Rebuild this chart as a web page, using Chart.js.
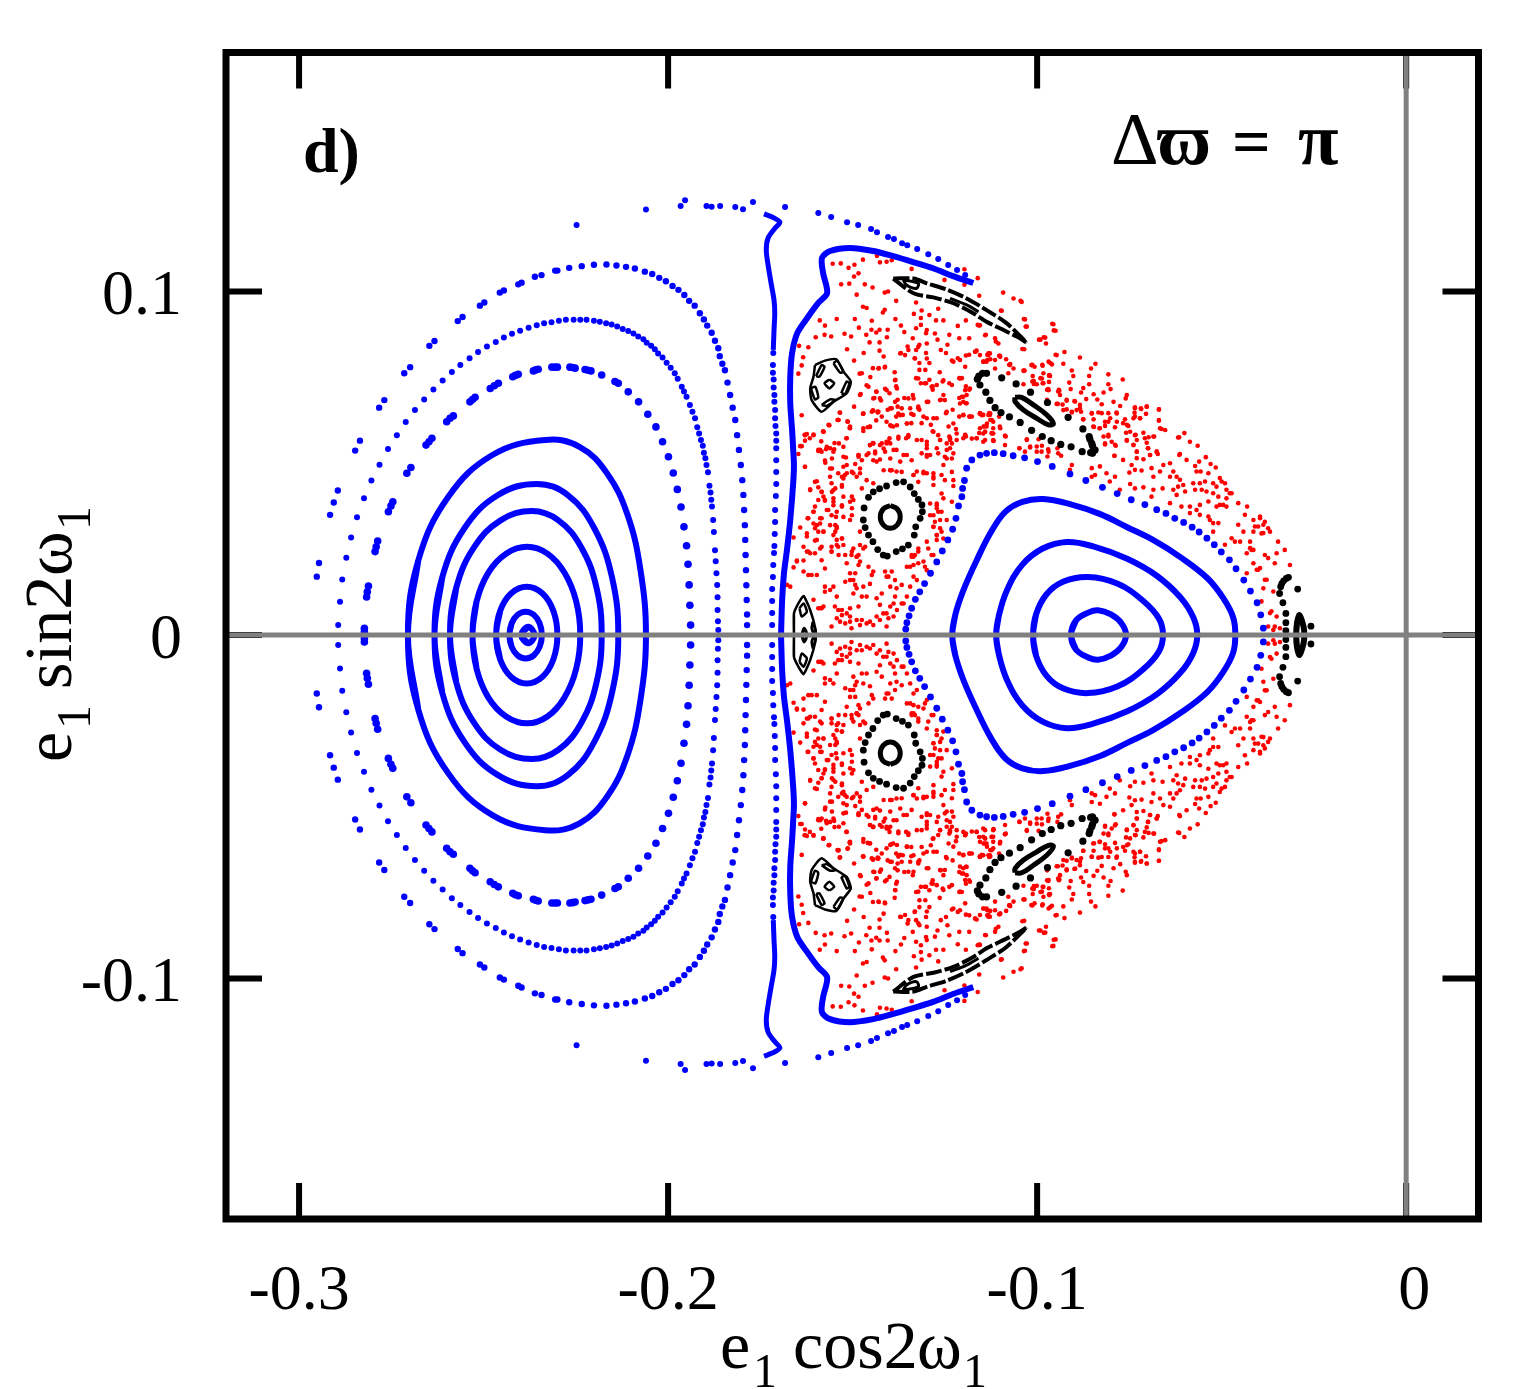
<!DOCTYPE html>
<html>
<head>
<meta charset="utf-8">
<title>e1 sin2w1 vs e1 cos2w1</title>
<script src="https://cdn.jsdelivr.net/npm/chart.js@4"></script>
<style>
body { margin: 0; background: #fff; }
canvas { display: block; }
</style>
</head>
<body>
<canvas id="chart" width="1539" height="1389"></canvas>
<script>
// every curve below is the upper half (y >= 0), the plot is symmetric so the lower half is mirrored
const xTicks = [-0.3, -0.2, -0.1, 0];
const yTicks = [-0.1, 0, 0.1];
const xTickLabels = ['-0.3', '-0.2', '-0.1', ' 0'];
const yTickLabels = ['-0.1', '0', '0.1'];

// solid contours, left island
const leftA = [[-.2398,0],[-.2379,.0024],[-.2362,0]];
const leftB = [[-.2430,0],[-.2424,.0034],[-.2408,.0059],[-.2386,.0068],[-.2364,.0059],[-.2348,.0034],[-.2342,0]];
const leftC = [[-.2466,0],[-.2455,.0071],[-.2425,.0122],[-.2383,.0141],[-.2341,.0122],[-.2311,.0071],[-.2300,0]];
const leftD = [[-.2530,0],[-.2519,.0098],[-.2487,.0182],[-.2439,.0237],[-.2382,.0257],[-.2327,.0237],[-.2281,.0182],[-.2249,.0098],[-.2238,0]];
const leftE = [[-.2591,0],[-.2574,.0138],[-.2526,.0255],[-.2454,.0334],[-.2369,.0361],[-.2297,.0334],[-.2235,.0255],[-.2194,.0138],[-.2180,0]];
const leftF = [[-.2633,0],[-.2612,.0168],[-.2552,.0311],[-.2462,.0407],[-.2356,.0440],[-.2271,.0407],[-.2200,.0311],[-.2152,.0168],[-.2135,0]];
const leftG = [[-.2705,0],[-.2677,.0217],[-.2596,.0402],[-.2475,.0525],[-.2333,.0568],[-.2240,.0548],[-.2165,.0470],[-.2110,.0350],[-.2075,.0190],[-.2060,0]];

// dotted curves, left island
const leftDashed = [[-.2823,.0010],[-.2823,.0020],[-.2817,.0111],[-.2815,.0126],[-.2812,.0143],[-.2794,.0243],[-.2791,.0257],[-.2787,.0274],[-.2758,.0359],[-.2751,.0376],[-.2746,.0388],[-.2708,.0471],[-.2697,.0488],[-.2656,.0553],[-.2648,.0563],[-.2640,.0573],[-.2600,.0621],[-.2591,.0631],[-.2582,.0638],[-.2537,.0679],[-.2530,.0686],[-.2523,.0692],[-.2482,.0718],[-.2471,.0726],[-.2460,.0733],[-.2421,.0752],[-.2414,.0756],[-.2406,.0759],[-.2365,.0769],[-.2359,.0772],[-.2352,.0774],[-.2315,.0780],[-.2307,.0780],[-.2300,.0780],[-.2266,.0780],[-.2259,.0779],[-.2252,.0777],[-.2225,.0773],[-.2217,.0771],[-.2209,.0769],[-.2180,.0757],[-.2144,.0738],[-.2135,.0733],[-.2108,.0708],[-.2080,.0679],[-.2055,.0643],[-.2033,.0606],[-.2015,.0563],[-.1999,.0519],[-.1986,.0472],[-.1975,.0424],[-.1965,.0373],[-.1957,.0315],[-.1950,.0260],[-.1946,.0206],[-.1943,.0146],[-.1941,.0087],[-.1939,.0029]];
const leftDotted = [[-.2894,.0029],[-.2889,.0097],[-.2883,.0162],[-.2872,.0225],[-.2859,.0284],[-.2843,.0343],[-.2824,.0398],[-.2804,.0450],[-.2782,.0496],[-.2759,.0542],[-.2735,.0582],[-.2711,.0620],[-.2686,.0655],[-.2661,.0686],[-.2636,.0715],[-.2611,.0741],[-.2586,.0766],[-.2563,.0786],[-.2538,.0806],[-.2515,.0824],[-.2491,.0840],[-.2467,.0853],[-.2445,.0866],[-.2423,.0877],[-.2401,.0886],[-.2378,.0895],[-.2356,.0902],[-.2336,.0908],[-.2316,.0911],[-.2296,.0915],[-.2277,.0918],[-.2256,.0918],[-.2238,.0918],[-.2221,.0918],[-.2201,.0915],[-.2185,.0912],[-.2168,.0908],[-.2153,.0904],[-.2138,.0898],[-.2123,.0891],[-.2108,.0885],[-.2094,.0878],[-.2081,.0869],[-.2067,.0861],[-.2058,.0851],[-.2046,.0842],[-.2036,.0832],[-.2027,.0820],[-.2015,.0808],[-.2004,.0793],[-.1993,.0778],[-.1982,.0762],[-.1974,.0746],[-.1963,.0723],[-.1957,.0709],[-.1950,.0694],[-.1941,.0670],[-.1934,.0650],[-.1927,.0631],[-.1921,.0605],[-.1916,.0587],[-.1911,.0568],[-.1906,.0551],[-.1903,.0531],[-.1899,.0515],[-.1896,.0495],[-.1892,.0474],[-.1888,.0435],[-.1885,.0415],[-.1883,.0394],[-.1881,.0374],[-.1878,.0335],[-.1876,.0300],[-.1873,.0247],[-.1871,.0215],[-.1869,.0180],[-.1867,.0146],[-.1866,.0110],[-.1866,.0073],[-.1865,.0040],[-.1864,.0015]];
const leftOuter = [[-.2952,.0170],[-.2946,.0210],[-.2916,.0350],[-.2906,.0386],[-.2895,.0421],[-.2848,.0537],[-.2835,.0566],[-.2783,.0662],[-.2769,.0684],[-.2715,.0762],[-.2699,.0780],[-.2647,.0842],[-.2633,.0856],[-.2570,.0914],[-.2557,.0926],[-.2510,.0959],[-.2498,.0968],[-.2456,.0997],[-.2445,.1003],[-.2406,.1021],[-.2397,.1026],[-.2361,.1043],[-.2343,.1048],[-.2306,.1061],[-.2300,.1061],[-.2268,.1069],[-.2234,.1074],[-.2201,.1078],[-.2167,.1079],[-.2140,.1076],[-.2114,.1072],[-.2090,.1067],[-.2063,.1058],[-.2043,.1051],[-.2024,.1040],[-.2006,.1030],[-.1988,.1016],[-.1972,.1005],[-.1956,.0990],[-.1943,.0973],[-.1928,.0959],[-.1914,.0937],[-.1903,.0919],[-.1894,.0901],[-.1882,.0880],[-.1873,.0857],[-.1864,.0835],[-.1860,.0812],[-.1853,.0790],[-.1846,.0771],[-.1839,.0735],[-.1832,.0699],[-.1825,.0662],[-.1818,.0626],[-.1813,.0582],[-.1808,.0539],[-.1803,.0495],[-.1799,.0451],[-.1796,.0408],[-.1794,.0364],[-.1792,.0320],[-.1791,.0277],[-.1790,.0233],[-.1789,.0189],[-.1788,.0145],[-.1787,.0102],[-.1786,.0060],[-.1786,.0029]];

// separatrix chain along the top and the vertical dotted part
const topChain = [[-.2248,.1194],[-.2060,.1239],[-.1966,.1249],[-.1954,.1266],[-.1896,.1249],[-.1882,.1247],[-.1859,.1249],[-.1818,.1246],[-.1797,.1240],[-.1770,.1261],[-.1683,.1246],[-.1593,.1229],[-.1558,.1217],[-.1515,.1202],[-.1485,.1194],[-.1450,.1182],[-.1434,.1173],[-.1404,.1159],[-.1388,.1153],[-.1366,.1141],[-.1352,.1135],[-.1325,.1124],[-.1295,.1109],[-.1268,.1095],[-.1241,.1077],[-.1217,.1063],[-.1195,.1048]];
const thinLine = [[-.1740,.1226],[-.1718,.1217],[-.1697,.1202],[-.1710,.1185],[-.1729,.1156],[-.1734,.1121],[-.1729,.1077],[-.1721,.1025],[-.1713,.0975],[-.1711,.0937],[-.1713,.0888],[-.1715,.0830]];
const verticalDots = [[-.1715,.0821],[-.1716,.0786],[-.1716,.0764],[-.1714,.0744],[-.1714,.0721],[-.1712,.0699],[-.1712,.0679],[-.1710,.0655],[-.1710,.0631],[-.1709,.0609],[-.1707,.0587],[-.1707,.0566],[-.1707,.0544],[-.1707,.0509],[-.1707,.0475],[-.1707,.0440],[-.1708,.0405],[-.1710,.0364],[-.1710,.0329],[-.1711,.0294],[-.1712,.0259],[-.1713,.0239],[-.1715,.0204],[-.1716,.0169],[-.1718,.0134],[-.1718,.0099],[-.1718,.0064],[-.1718,.0029]];
const thickArch = [[-.1173,.1025],[-.1228,.1045],[-.1282,.1068],[-.1336,.1086],[-.1390,.1103],[-.1444,.1118],[-.1507,.1127],[-.1561,.1118],[-.1583,.1098],[-.1580,.1054],[-.1569,.0996],[-.1593,.0967],[-.1623,.0923],[-.1650,.0879],[-.1664,.0821],[-.1669,.0751],[-.1669,.0675],[-.1664,.0597],[-.1661,.0539],[-.1659,.0495],[-.1661,.0443],[-.1669,.0335],[-.1678,.0247],[-.1686,.0180],[-.1691,.0102],[-.1694,0]];

// right island
const rightBoundary = [[-.1356,.0017],[-.1353,.0036],[-.1347,.0056],[-.1340,.0078],[-.1330,.0104],[-.1318,.0126],[-.1305,.0150],[-.1289,.0180],[-.1272,.0213],[-.1257,.0245],[-.1242,.0277],[-.1229,.0308],[-.1220,.0340],[-.1213,.0376],[-.1204,.0403],[-.1202,.0427],[-.1197,.0450],[-.1191,.0486],[-.1177,.0510],[-.1155,.0524],[-.1137,.0529],[-.1116,.0531],[-.1092,.0528],[-.1065,.0522],[-.1034,.0516],[-.0999,.0505],[-.0959,.0491],[-.0911,.0469],[-.0868,.0450],[-.0823,.0430],[-.0783,.0412],[-.0745,.0394],[-.0708,.0380],[-.0676,.0365],[-.0651,.0354],[-.0627,.0340],[-.0603,.0328],[-.0580,.0314],[-.0561,.0300],[-.0540,.0282],[-.0520,.0263],[-.0501,.0242],[-.0479,.0219],[-.0461,.0193],[-.0440,.0160],[-.0422,.0128],[-.0404,.0094],[-.0394,.0059],[-.0387,.0020]];
const rightA = [[-.1230,0],[-.1222,.0058],[-.1200,.0130],[-.1165,.0215],[-.1125,.0300],[-.1085,.0360],[-.1040,.0388],[-.0984,.0396],[-.0911,.0381],[-.0829,.0352],[-.0756,.0314],[-.0686,.0277],[-.0612,.0227],[-.0539,.0166],[-.0496,.0108],[-.0469,.0052],[-.0463,0]];
const rightB = [[-.1111,0],[-.1104,.0055],[-.1082,.0130],[-.1040,.0205],[-.0985,.0252],[-.0919,.0271],[-.0848,.0258],[-.0756,.0222],[-.0675,.0172],[-.0612,.0110],[-.0577,.0052],[-.0566,0]];
const rightC = [[-.1011,0],[-.1003,.0060],[-.0975,.0118],[-.0930,.0155],[-.0862,.0169],[-.0783,.0150],[-.0713,.0100],[-.0670,.0048],[-.0659,0]];
const rightD = [[-.0908,0],[-.0895,.0042],[-.0860,.0066],[-.0835,.0072],[-.0800,.0060],[-.0772,.0035],[-.0759,0]];

// black resonance chains
const chainOneDots = [[-.1137,.0762],[-.1148,.0762],[-.1158,.0754],[-.1162,.0745],[-.1155,.0728],[-.1139,.0707],[-.1128,.0683],[-.1114,.0662],[-.1098,.0648],[-.1075,.0635],[-.1046,.0619],[-.1015,.0596],[-.0986,.0578],[-.0962,.0566],[-.0936,.0555],[-.0908,.0548],[-.0878,.0534],[-.0855,.0531],[-.0850,.0529],[-.0843,.0539],[-.0850,.0551],[-.0852,.0558],[-.0857,.0570],[-.0859,.0578],[-.0876,.0600],[-.0916,.0634],[-.0972,.0677],[-.1018,.0707],[-.1057,.0731],[-.1096,.0749]];
const chainOneLoop = [[-.1060,.0692],[-.1042,.0692],[-.1010,.0670],[-.0974,.0641],[-.0956,.0616],[-.0969,.0612],[-.1001,.0631],[-.1037,.0655],[-.1060,.0680],[-.1060,.0692]];
const chainTwoDots = [[-.1382,.0444],[-.1408,.0434],[-.1427,.0426],[-.1444,.0417],[-.1457,.0401],[-.1469,.0370],[-.1471,.0335],[-.1466,.0313],[-.1457,.0291],[-.1445,.0272],[-.1432,.0249],[-.1417,.0233],[-.1406,.0230],[-.1382,.0243],[-.1365,.0251],[-.1349,.0262],[-.1333,.0291],[-.1329,.0315],[-.1317,.0340],[-.1311,.0359],[-.1312,.0379],[-.1322,.0395],[-.1333,.0412],[-.1344,.0431],[-.1362,.0446]];
const chainTwoLoop = [[-.1398,.0377],[-.1379,.0367],[-.1371,.0344],[-.1379,.0321],[-.1398,.0311],[-.1417,.0321],[-.1425,.0344],[-.1417,.0367],[-.1398,.0377]];
const pentagon = [[-.1602,.0786],[-.1575,.0799],[-.1544,.0803],[-.1525,.0767],[-.1505,.0738],[-.1516,.0704],[-.1552,.0679],[-.1584,.0650],[-.1611,.0684],[-.1615,.0718],[-.1606,.0752],[-.1602,.0786]];
const pentagonLobes = [
  [[-.1599,.0754],[-.1584,.0786],[-.1576,.0781],[-.1590,.0752],[-.1599,.0754]],
  [[-.1552,.0791],[-.1542,.0799],[-.1525,.0767],[-.1534,.0764],[-.1552,.0791]],
  [[-.1531,.0704],[-.1516,.0738],[-.1509,.0733],[-.1520,.0702],[-.1531,.0704]],
  [[-.1584,.0670],[-.1561,.0686],[-.1547,.0684],[-.1570,.0667],[-.1584,.0670]],
  [[-.1613,.0718],[-.1601,.0723],[-.1593,.0692],[-.1602,.0686],[-.1613,.0718]],
  [[-.1563,.0744],[-.1550,.0733],[-.1563,.0718],[-.1576,.0733],[-.1563,.0744]]
];
const diamond = [[-.1659,0],[-.1659,.0063],[-.1647,.0092],[-.1633,.0114],[-.1615,.0073],[-.1600,.0015],[-.1600,0]];
const diamondCore = [[-.1637,0],[-.1631,.0020],[-.1624,0]];
const diamondLobes = [
  [[-.1644,.0078],[-.1633,.0092],[-.1624,.0068],[-.1638,.0054],[-.1644,.0078]],
  [[-.1608,.0039],[-.1602,.0015],[-.1606,.0005],[-.1611,.0020],[-.1608,.0039]]
];
const tipDots = [[-.0319,.0168],[-.0325,.0165],[-.0332,.0158],[-.0337,.0150],[-.0340,.0141],[-.0343,.0121],[-.0334,.0094],[-.0326,.0063],[-.0326,.0036],[-.0326,.0013],[-.0294,.0134],[-.0258,.0026]];
const tipLoop = [[-.0298,0],[-.0296,.0034],[-.0289,.0058],[-.0278,.0024],[-.0276,0]];
const sliverUpper = [[-.1390,.1038],[-.1335,.1038],[-.1299,.1024],[-.1245,.1006],[-.1191,.0980],[-.1137,.0946],[-.1083,.0908],[-.1028,.0851]];
const sliverLower = [[-.1390,.1038],[-.1335,.0995],[-.1281,.0983],[-.1227,.0966],[-.1173,.0937],[-.1137,.0912],[-.1101,.0893],[-.1055,.0869],[-.1028,.0851]];
const sliverLobe = [[-.1363,.1034],[-.1322,.1024],[-.1327,.1009],[-.1354,.1019],[-.1363,.1034]];
const sliverBand = [[-.1236,.0980],[-.1191,.0961],[-.1159,.0941]];

// chaotic sea, read region by region
const redTop = [[-.1554,.1081],[-.1532,.1082],[-.1511,.1069],[-.1495,.1078],[-.1484,.1053],[-.1496,.1044],[-.1472,.1093],[-.1434,.1104],[-.1426,.1085],[-.1408,.1087],[-.1394,.1091],[-.1340,.1066],[-.1531,.1021],[-.1509,.1023],[-.1467,.1021],[-.1446,.1012],[-.1489,.0991],[-.1404,.1000],[-.1413,.0997],[-.1382,.0973],[-.1472,.0956],[-.1462,.0952],[-.1413,.0947],[-.1418,.0939],[-.1384,.0920],[-.1448,.0915],[-.1494,.0920],[-.1543,.0920],[-.1589,.0916],[-.1575,.0901],[-.1483,.0895],[-.1449,.0889],[-.1427,.0889],[-.1405,.0889],[-.1369,.0901],[-.1360,.0882],[-.1600,.0867],[-.1576,.0874],[-.1558,.0869],[-.1522,.0877],[-.1504,.0869],[-.1463,.0874],[-.1436,.0881],[-.1454,.0852],[-.1427,.0852],[-.1407,.0867],[-.1515,.0832],[-.1470,.0821],[-.1427,.0828],[-.1416,.0811],[-.1496,.0799],[-.1645,.0842],[-.1620,.0838],[-.1634,.0809],[-.1638,.0785],[-.1647,.0761],[-.1481,.0761],[-.1445,.0777],[-.1429,.0777],[-.1413,.0779],[-.1386,.0765],[-.1452,.0751],[-.1462,.0727],[-.1478,.0702],[-.1384,.0743],[-.1382,.0724],[-.1412,.0717],[-.1436,.0709],[-.1441,.0690],[-.1423,.0683],[-.1400,.0704],[-.1378,.0685],[-.1360,.0690],[-.1337,.0699],[-.1378,.0665],[-.1405,.0656],[-.1445,.0654],[-.1432,.0651],[-.1472,.0644],[-.1496,.0665],[-.1535,.0648],[-.1539,.0627],[-.1514,.0622],[-.1508,.0603],[-.1565,.0612],[-.1580,.0593],[-.1459,.0605],[-.1436,.0625],[-.1382,.0636],[-.1396,.0609],[-.1364,.0641],[-.1341,.0644],[-.1319,.0656],[-.1341,.0617],[-.1313,.0617],[-.1288,.0612],[-.1283,.0593],[-.1247,.0646],[-.1261,.0685],[-.1283,.0714],[-.1315,.0733],[-.1292,.0743],[-.1256,.0738],[-.1238,.0733],[-.1211,.0748],[-.1193,.0724],[-.1184,.0714],[-.1211,.0690],[-.1193,.0675],[-.1229,.0656],[-.1211,.0636],[-.1184,.0636],[-.1155,.0644],[-.1130,.0646],[-.1103,.0636],[-.1143,.0607],[-.1085,.0578],[-.1157,.0588],[-.1220,.0600],[-.1238,.0578],[-.1193,.0578],[-.1355,.0573],[-.1400,.0573],[-.1445,.0559],[-.1517,.0573],[-.1549,.0559],[-.1616,.0573],[-.1630,.0583],[-.1585,.0564]];
const redUpperRight = [[-.1334,.0935],[-.1315,.0923],[-.1292,.0932],[-.1274,.0916],[-.1254,.0916],[-.1215,.0900],[-.1193,.0916],[-.1161,.0903],[-.1092,.0997],[-.1064,.0980],[-.1045,.0973],[-.1036,.0920],[-.1031,.0898],[-.1098,.0945],[-.1157,.0988],[-.1197,.1020],[-.1161,.1039],[-.1197,.1065],[-.1251,.1034],[-.1268,.0950],[-.1313,.0945],[-.1328,.0968],[-.0959,.0906],[-.0955,.0887],[-.0982,.0867],[-.0995,.0860],[-.1040,.0833],[-.0950,.0816],[-.1013,.0787],[-.0986,.0787],[-.0964,.0792],[-.1036,.0769],[-.1013,.0738],[-.0991,.0748],[-.0968,.0755],[-.0941,.0714],[-.0973,.0714],[-.0973,.0685],[-.1009,.0731],[-.1076,.0787],[-.1103,.0813],[-.1135,.0816],[-.1135,.0801],[-.1164,.0828],[-.1184,.0816],[-.1193,.0814],[-.1215,.0806],[-.1231,.0799],[-.1247,.0821],[-.1261,.0830],[-.1243,.0845],[-.1270,.0860],[-.1238,.0874],[-.1211,.0864],[-.1184,.0864],[-.1139,.0874],[-.1112,.0855],[-.1157,.0901],[-.1315,.0903],[-.1328,.0893],[-.1301,.0879],[-.1337,.0864],[-.1319,.0845],[-.1351,.0840],[-.1328,.0830],[-.1369,.0821],[-.1332,.0806],[-.1301,.0821],[-.1319,.0792],[-.1292,.0792],[-.1319,.0772],[-.1303,.0772],[-.1264,.0765],[-.1328,.0748],[-.1301,.0733],[-.1283,.0724]];
const redRight = [[-.1168,.0825],[-.1132,.0820],[-.1101,.0813],[-.1074,.0786],[-.1114,.0801],[-.1146,.0796],[-.1195,.0781],[-.1204,.0748],[-.1182,.0718],[-.1200,.0694],[-.1191,.0675],[-.1155,.0646],[-.1182,.0636],[-.1132,.0641],[-.1119,.0621],[-.1101,.0607],[-.1141,.0592],[-.1123,.0588],[-.1195,.0583],[-.1164,.0573],[-.1119,.0566],[-.1087,.0580],[-.1028,.0570],[-.1048,.0544],[-.1019,.0546],[-.1001,.0549],[-.0988,.0534],[-.0970,.0541],[-.0972,.0520],[-.0943,.0529],[-.0906,.0495],[-.0911,.0481],[-.1037,.0770],[-.1015,.0786],[-.1009,.0738],[-.0983,.0762],[-.0967,.0757],[-.0985,.0733],[-.0970,.0716],[-.0943,.0709],[-.0947,.0673],[-.0920,.0685],[-.0897,.0680],[-.0884,.0660],[-.0906,.0648],[-.0929,.0655],[-.0875,.0628],[-.0852,.0646],[-.0825,.0646],[-.0807,.0646],[-.0785,.0648],[-.0848,.0607],[-.0830,.0602],[-.0816,.0621],[-.0807,.0583],[-.0789,.0554],[-.0816,.0558],[-.0767,.0617],[-.0757,.0612],[-.0735,.0660],[-.0719,.0660],[-.0703,.0665],[-.0670,.0657],[-.0739,.0631],[-.0721,.0631],[-.0670,.0626],[-.0663,.0600],[-.0733,.0583],[-.0708,.0573],[-.0685,.0578],[-.0757,.0568],[-.0739,.0554],[-.0730,.0534],[-.0699,.0544],[-.0676,.0534],[-.0694,.0524],[-.0791,.0522],[-.0767,.0510],[-.0712,.0512],[-.0658,.0495],[-.0640,.0500],[-.0613,.0527],[-.0595,.0510],[-.0618,.0575],[-.0601,.0588],[-.0586,.0563],[-.0565,.0551],[-.0561,.0505],[-.0543,.0518],[-.0530,.0498],[-.0516,.0488],[-.0572,.0492],[-.0557,.0476],[-.0631,.0476],[-.0640,.0461],[-.0667,.0476],[-.0690,.0486],[-.0717,.0479],[-.0744,.0495],[-.0735,.0481],[-.0750,.0473],[-.0852,.0486],[-.0830,.0491],[-.0812,.0471],[-.0843,.0466],[-.0789,.0461],[-.0852,.0461],[-.0803,.0447],[-.0748,.0440],[-.0712,.0430],[-.0685,.0423],[-.0660,.0427],[-.0690,.0403],[-.0622,.0461],[-.0618,.0432],[-.0599,.0418],[-.0622,.0408],[-.0640,.0384],[-.0609,.0374],[-.0586,.0374],[-.0568,.0476],[-.0536,.0471],[-.0505,.0457],[-.0491,.0442],[-.0478,.0413],[-.0523,.0413],[-.0554,.0423],[-.0572,.0423],[-.0536,.0389],[-.0505,.0379],[-.0487,.0374],[-.0455,.0384],[-.0431,.0374],[-.0437,.0350],[-.0559,.0350],[-.0532,.0335],[-.0509,.0326],[-.0455,.0321],[-.0441,.0301],[-.0414,.0301],[-.0396,.0340],[-.0387,.0321],[-.0369,.0301],[-.0423,.0272],[-.0419,.0248],[-.0432,.0238],[-.0464,.0272],[-.0473,.0282],[-.0491,.0263],[-.0523,.0301],[-.0392,.0296],[-.0347,.0272],[-.0329,.0248],[-.0315,.0204],[-.0351,.0238],[-.0374,.0224],[-.0356,.0209],[-.0383,.0233],[-.0414,.0209],[-.0401,.0190],[-.0432,.0180],[-.0378,.0161],[-.0387,.0136],[-.0360,.0127],[-.0392,.0098],[-.0369,.0064],[-.0351,.0054],[-.0360,.0015],[-.0559,.0379],[-.0685,.0461],[-.0735,.0427],[-.0776,.0423]];
const redCentre = [[-.1638,.0550],[-.1647,.0527],[-.1629,.0490],[-.1593,.0539],[-.1570,.0548],[-.1552,.0534],[-.1525,.0548],[-.1575,.0508],[-.1516,.0495],[-.1484,.0519],[-.1462,.0524],[-.1444,.0558],[-.1408,.0558],[-.1439,.0529],[-.1412,.0534],[-.1480,.0485],[-.1529,.0461],[-.1498,.0471],[-.1561,.0485],[-.1602,.0446],[-.1615,.0422],[-.1584,.0417],[-.1552,.0422],[-.1529,.0437],[-.1516,.0471],[-.1552,.0388],[-.1575,.0391],[-.1525,.0403],[-.1507,.0388],[-.1566,.0364],[-.1529,.0374],[-.1502,.0369],[-.1543,.0359],[-.1606,.0359],[-.1588,.0340],[-.1622,.0340],[-.1507,.0335],[-.1543,.0315],[-.1579,.0301],[-.1602,.0311],[-.1642,.0313],[-.1660,.0284],[-.1602,.0275],[-.1588,.0252],[-.1557,.0243],[-.1539,.0257],[-.1529,.0281],[-.1552,.0291],[-.1480,.0301],[-.1466,.0257],[-.1498,.0252],[-.1489,.0228],[-.1520,.0233],[-.1516,.0209],[-.1484,.0204],[-.1457,.0199],[-.1651,.0217],[-.1633,.0217],[-.1624,.0243],[-.1584,.0218],[-.1660,.0197],[-.1620,.0175],[-.1597,.0175],[-.1575,.0194],[-.1507,.0180],[-.1520,.0155],[-.1498,.0160],[-.1489,.0136],[-.1475,.0112],[-.1448,.0175],[-.1453,.0149],[-.1412,.0185],[-.1403,.0170],[-.1385,.0160],[-.1367,.0146],[-.1335,.0170],[-.1344,.0199],[-.1322,.0209],[-.1304,.0199],[-.1286,.0233],[-.1322,.0252],[-.1340,.0233],[-.1272,.0214],[-.1353,.0199],[-.1398,.0141],[-.1421,.0121],[-.1385,.0112],[-.1435,.0107],[-.1552,.0141],[-.1575,.0126],[-.1543,.0112],[-.1678,.0146],[-.1669,.0141],[-.1606,.0103],[-.1584,.0078],[-.1529,.0073],[-.1507,.0078],[-.1484,.0083],[-.1426,.0088],[-.1389,.0092],[-.1367,.0092],[-.1353,.0112],[-.1380,.0073],[-.1543,.0049],[-.1520,.0034],[-.1489,.0044],[-.1462,.0034],[-.1426,.0044],[-.1403,.0049],[-.1507,.0054],[-.1593,.0078],[-.1408,.0025],[-.1480,.0029],[-.1557,.0025],[-.1534,.0039],[-.1503,.0020],[-.1444,.0029],[-.1290,.0383],[-.1272,.0383],[-.1281,.0349],[-.1259,.0359],[-.1281,.0315],[-.1263,.0311],[-.1245,.0335],[-.1272,.0291],[-.1231,.0388],[-.1254,.0398],[-.1335,.0466],[-.1308,.0471],[-.1281,.0471],[-.1254,.0495],[-.1227,.0529],[-.1290,.0524],[-.1299,.0553],[-.1245,.0558],[-.1362,.0524],[-.1398,.0480],[-.1416,.0480],[-.1281,.0437]];
const redShoulder = [[-.1042,.0970],[-.1096,.0944],[-.1033,.0919],[-.1028,.0898],[-.0956,.0905],[-.0950,.0886],[-.0978,.0866],[-.0991,.0860],[-.0976,.0849],[-.1035,.0832],[-.0926,.0824],[-.0947,.0815],[-.0884,.0808],[-.0842,.0790],[-.0969,.0796],[-.0960,.0788],[-.0929,.0790],[-.0854,.0776],[-.0906,.0770],[-.0902,.0754],[-.0859,.0754],[-.0807,.0759],[-.0768,.0744],[-.0807,.0730],[-.0801,.0716],[-.0859,.0730],[-.0913,.0735],[-.0909,.0716],[-.0875,.0719],[-.0881,.0706],[-.0847,.0701],[-.0820,.0706],[-.0837,.0686],[-.0867,.0687],[-.0757,.0699],[-.0760,.0689],[-.0793,.0679],[-.0775,.0667],[-.0825,.0672],[-.0920,.0682],[-.0899,.0681],[-.0944,.0673],[-.0931,.0671],[-.0884,.0670],[-.0920,.0657],[-.0906,.0650],[-.0893,.0655],[-.0881,.0650],[-.0834,.0648],[-.0852,.0645],[-.0875,.0628],[-.0847,.0628],[-.0802,.0631],[-.0784,.0645],[-.0735,.0663],[-.0718,.0658],[-.0703,.0665],[-.0670,.0657],[-.0736,.0647],[-.0721,.0631],[-.0705,.0644],[-.0670,.0624],[-.0735,.0636],[-.0762,.0628],[-.0784,.0621],[-.0807,.0621],[-.0816,.0609],[-.0846,.0606],[-.0831,.0602],[-.0789,.0605],[-.0753,.0609],[-.0748,.0592],[-.0667,.0602],[-.0653,.0597],[-.0712,.0589],[-.0698,.0576],[-.0683,.0578],[-.0615,.0576],[-.0759,.0589],[-.0735,.0582],[-.0730,.0568],[-.0757,.0566],[-.0739,.0553],[-.0703,.0560],[-.0820,.0578],[-.0807,.0578],[-.0798,.0563],[-.0816,.0555],[-.0787,.0551],[-.0700,.0544],[-.0676,.0534],[-.0694,.0524],[-.0730,.0534],[-.0615,.0524],[-.0790,.0522],[-.0730,.0515],[-.0673,.0527],[-.0938,.0699],[-.0940,.0711],[-.0969,.0713],[-.0983,.0733],[-.0968,.0737],[-.0987,.0747],[-.1001,.0730],[-.1010,.0740],[-.1037,.0730],[-.1012,.0754],[-.1034,.0770],[-.1015,.0786],[-.1007,.0781],[-.0985,.0784],[-.0965,.0754],[-.1132,.0815],[-.1145,.0796],[-.1127,.0803],[-.1100,.0810],[-.1084,.0803],[-.1073,.0789],[-.1064,.0776],[-.1114,.0776],[-.1078,.0762],[-.1155,.0815],[-.1155,.0902],[-.1141,.0873],[-.1114,.0864],[-.1105,.0849],[-.1127,.0645],[-.1136,.0616],[-.1145,.0607],[-.1150,.0642],[-.1127,.0626],[-.1100,.0602],[-.1141,.0592],[-.1123,.0587],[-.1118,.0565],[-.1087,.0580],[-.1087,.0553],[-.1141,.0568],[-.1048,.0544],[-.1028,.0568],[-.1019,.0549],[-.0996,.0570],[-.0987,.0551],[-.0969,.0534],[-.0945,.0544],[-.0935,.0522],[-.1001,.0534],[-.1033,.0534]];
const redBelt = [[-.1638,.0640],[-.1624,.0585],[-.1606,.0584],[-.1629,.0566],[-.1579,.0592],[-.1563,.0611],[-.1541,.0626],[-.1534,.0647],[-.1513,.0621],[-.1507,.0602],[-.1471,.0645],[-.1444,.0653],[-.1432,.0648],[-.1421,.0636],[-.1453,.0606],[-.1471,.0594],[-.1516,.0573],[-.1537,.0558],[-.1550,.0541],[-.1572,.0541],[-.1593,.0536],[-.1584,.0534],[-.1444,.0558],[-.1421,.0558],[-.1403,.0563],[-.1376,.0572],[-.1349,.0582],[-.1326,.0568],[-.1299,.0563],[-.1263,.0568],[-.1236,.0568],[-.1195,.0582],[-.1177,.0572],[-.1146,.0587],[-.1119,.0602],[-.1150,.0640],[-.1200,.0640],[-.1177,.0636],[-.1245,.0650],[-.1281,.0631],[-.1308,.0636],[-.1353,.0616],[-.1380,.0611],[-.1398,.0611],[-.1394,.0660],[-.1371,.0640],[-.1344,.0660],[-.1322,.0665],[-.1299,.0679],[-.1200,.0679],[-.1398,.0558],[-.1416,.0543],[-.1439,.0534],[-.1389,.0539],[-.1457,.0529],[-.1484,.0524],[-.1475,.0509],[-.1518,.0517],[-.1493,.0498],[-.1525,.0490],[-.1556,.0485],[-.1574,.0502],[-.1556,.0514],[-.1629,.0490],[-.1480,.0471],[-.1502,.0475],[-.1525,.0456],[-.1597,.0448],[-.1561,.0461],[-.1529,.0432],[-.1547,.0427],[-.1556,.0417],[-.1615,.0424],[-.1593,.0430],[-.1584,.0417],[-.1462,.0451],[-.1475,.0427],[-.1444,.0442],[-.1444,.0509],[-.1426,.0511],[-.1398,.0514],[-.1371,.0505],[-.1353,.0524],[-.1340,.0509],[-.1299,.0524],[-.1268,.0529],[-.1245,.0514],[-.1231,.0514],[-.1398,.0480],[-.1367,.0475],[-.1335,.0466],[-.1308,.0475],[-.1281,.0461],[-.1259,.0466],[-.1231,.0475],[-.1250,.0451],[-.1227,.0434],[-.1552,.0398],[-.1502,.0403],[-.1498,.0393],[-.1593,.0393],[-.1575,.0393],[-.1552,.0378],[-.1529,.0378],[-.1570,.0364],[-.1606,.0359],[-.1620,.0340],[-.1584,.0340],[-.1557,.0349],[-.1545,.0344],[-.1525,.0344],[-.1502,.0349],[-.1597,.0320],[-.1547,.0320],[-.1593,.0301],[-.1579,.0301],[-.1624,.0296],[-.1547,.0301],[-.1529,.0281],[-.1597,.0277],[-.1543,.0262],[-.1525,.0262],[-.1584,.0257],[-.1557,.0243],[-.1538,.0233],[-.1502,.0243],[-.1620,.0243],[-.1480,.0262],[-.1471,.0252],[-.1489,.0228],[-.1331,.0233],[-.1295,.0252],[-.1281,.0233],[-.1340,.0228],[-.1272,.0378],[-.1268,.0359],[-.1290,.0349],[-.1263,.0335],[-.1281,.0315],[-.1272,.0291],[-.1259,.0301],[-.1218,.0587],[-.1245,.0539],[-.1231,.0558],[-.1268,.0582]];
const redFlank = [[-.0613,.0452],[-.0631,.0423],[-.0604,.0437],[-.0577,.0442],[-.0545,.0447],[-.0523,.0442],[-.0514,.0432],[-.0500,.0447],[-.0487,.0423],[-.0473,.0413],[-.0496,.0379],[-.0514,.0374],[-.0536,.0345],[-.0523,.0326],[-.0586,.0355],[-.0568,.0364],[-.0559,.0442],[-.0541,.0418],[-.0509,.0403],[-.0487,.0398],[-.0414,.0335],[-.0396,.0345],[-.0383,.0330],[-.0401,.0316],[-.0387,.0297],[-.0374,.0311],[-.0410,.0316],[-.0450,.0272],[-.0423,.0253],[-.0414,.0248],[-.0405,.0190],[-.0396,.0195],[-.0383,.0161],[-.0365,.0069],[-.0374,.0025],[-.0356,.0025],[-.0342,.0020]];
const redInner = [[-.1371,.0820],[-.1358,.0815],[-.1349,.0830],[-.1331,.0805],[-.1299,.0805],[-.1322,.0839],[-.1299,.0849],[-.1277,.0878],[-.1299,.0888],[-.1227,.0796],[-.1209,.0801],[-.1168,.0825],[-.1128,.0820],[-.1137,.0796],[-.1322,.0747],[-.1304,.0733],[-.1286,.0723],[-.1272,.0728],[-.1254,.0742],[-.1231,.0728],[-.1209,.0747],[-.1195,.0713],[-.1254,.0699],[-.1263,.0684],[-.1250,.0684],[-.1295,.0679],[-.1322,.0660],[-.1335,.0641],[-.1299,.0631],[-.1272,.0631],[-.1380,.0718],[-.1385,.0742],[-.1408,.0713],[-.1385,.0679],[-.1398,.0660],[-.1367,.0660],[-.1376,.0645],[-.1349,.0689],[-.1335,.0689],[-.1435,.0708],[-.1426,.0689],[-.1444,.0689],[-.1475,.0762],[-.1457,.0723],[-.1430,.0776],[-.1412,.0781],[-.1480,.0699],[-.1471,.0645],[-.1448,.0650],[-.1430,.0650],[-.1408,.0621],[-.1390,.0607],[-.1353,.0616],[-.1376,.0577],[-.1349,.0577],[-.1313,.0568],[-.1281,.0592],[-.1263,.0568],[-.1236,.0573],[-.1218,.0568],[-.1200,.0573],[-.1164,.0573],[-.1146,.0563],[-.1119,.0568],[-.1236,.0544],[-.1250,.0519],[-.1272,.0544],[-.1299,.0544],[-.1408,.0563],[-.1381,.0539],[-.1426,.0553],[-.1453,.0553],[-.1484,.0524],[-.1525,.0519],[-.1561,.0544],[-.1588,.0539],[-.1606,.0582],[-.1629,.0582],[-.1642,.0550],[-.1579,.0592],[-.1564,.0611],[-.1538,.0626],[-.1507,.0607],[-.1471,.0602],[-.1453,.0607],[-.1155,.0645],[-.1128,.0641],[-.1200,.0641],[-.1240,.0607],[-.1227,.0616],[-.1137,.0607],[-.1119,.0587],[-.1155,.0602],[-.1204,.0694],[-.1191,.0699],[-.1209,.0674],[-.1146,.0641],[-.1123,.0626]];
const redLower = [[-.1493,.0146],[-.1507,.0160],[-.1498,.0121],[-.1471,.0141],[-.1462,.0112],[-.1408,.0170],[-.1394,.0185],[-.1444,.0185],[-.1398,.0083],[-.1408,.0063],[-.1507,.0039],[-.1475,.0044],[-.1453,.0039],[-.1435,.0054],[-.1417,.0063],[-.1389,.0054],[-.1539,.0073],[-.1548,.0083],[-.1529,.0058],[-.1516,.0063],[-.1575,.0141],[-.1561,.0131],[-.1579,.0083],[-.1588,.0078],[-.1633,.0185],[-.1611,.0175],[-.1651,.0214],[-.1615,.0238],[-.1602,.0238],[-.1633,.0257],[-.1543,.0277],[-.1557,.0257],[-.1503,.0233],[-.1484,.0233],[-.1480,.0214],[-.1493,.0180],[-.1588,.0325],[-.1606,.0325],[-.1561,.0320],[-.1543,.0311],[-.1579,.0403],[-.1602,.0374],[-.1624,.0287],[-.1557,.0442],[-.1539,.0471],[-.1521,.0466],[-.1489,.0461],[-.1453,.0553],[-.1435,.0505],[-.1394,.0480],[-.1381,.0476],[-.1313,.0529],[-.1299,.0519],[-.1322,.0446],[-.1326,.0476],[-.1281,.0456],[-.1299,.0471],[-.1227,.0451],[-.1259,.0412],[-.1272,.0369],[-.1277,.0330],[-.1272,.0277],[-.1254,.0281],[-.1299,.0272],[-.1322,.0243],[-.1335,.0228],[-.1335,.0204],[-.1308,.0214],[-.1299,.0189],[-.1326,.0160],[-.1344,.0141],[-.1381,.0136],[-.1362,.0092]];

const mirror = pts => pts.map(p => ({ x: p[0], y: -p[1] }));
const upper = pts => pts.map(p => ({ x: p[0], y: p[1] }));
const both = pts => upper(pts).concat(mirror(pts));
// closed outline, lapped over its start so the spline has no seam on the axis
function ring(pts) {
    const up = upper(pts);
    const down = mirror(pts).reverse().slice(1, -1);
    return [down[down.length - 1]].concat(up, down, up[0], up[1]);
}

const BLUE = '#0000ff';
const GREY = '#808080';

function dots(pts, color, radius) {
    return { data: both(pts), showLine: false, pointRadius: radius, pointHoverRadius: radius, pointBackgroundColor: color, pointBorderWidth: 0 };
}
function line(data, color, width, tension) {
    return { data: data, showLine: true, borderColor: color, borderWidth: width, pointRadius: 0, tension: tension, fill: false };
}

const datasets = [];
// first dataset is painted last
datasets.push(line([{ x: -0.32, y: 0 }, { x: 0.02, y: 0 }], GREY, 5, 0));
datasets.push(line([{ x: 0, y: -0.17 }, { x: 0, y: 0.17 }], GREY, 5, 0));

[chainOneLoop, chainTwoLoop].forEach(p => {
    datasets.push(line(upper(p), '#000', 5, 0.4));
    datasets.push(line(mirror(p), '#000', 5, 0.4));
});
datasets.push(dots(chainOneDots, '#000', 3.6));
datasets.push(dots(chainTwoDots, '#000', 3.4));
datasets.push(dots(tipDots, '#000', 3.4));
datasets.push(line(ring(tipLoop), '#000', 6, 0.3));
[pentagon].concat(pentagonLobes).forEach(p => {
    datasets.push(line(upper(p), '#000', 2.5, 0.2));
    datasets.push(line(mirror(p), '#000', 2.5, 0.2));
});
datasets.push(line(ring(diamond), '#000', 2.5, 0.15));
datasets.push(line(ring(diamondCore), '#000', 3, 0.3));
diamondLobes.forEach(p => {
    datasets.push(line(upper(p), '#000', 2.5, 0.2));
    datasets.push(line(mirror(p), '#000', 2.5, 0.2));
});
[sliverUpper, sliverLower].forEach(p => {
    const up = line(upper(p), '#000', 4, 0.3);
    const down = line(mirror(p), '#000', 4, 0.3);
    up.borderDash = down.borderDash = [16, 3];
    datasets.push(up, down);
});
[sliverLobe, sliverBand].forEach(p => {
    datasets.push(line(upper(p), '#000', 3, 0.3));
    datasets.push(line(mirror(p), '#000', 3, 0.3));
});

[leftA, leftB, leftC, leftD, leftE, leftF, leftG, rightA, rightB, rightC, rightD].forEach(p => {
    datasets.push(line(ring(p), BLUE, 6, 0.4));
});
[thinLine, thickArch].forEach(p => {
    datasets.push(line(upper(p), BLUE, p === thinLine ? 5 : 6, 0.3));
    datasets.push(line(mirror(p), BLUE, p === thinLine ? 5 : 6, 0.3));
});
datasets.push(dots(leftDashed, BLUE, 3.8));
datasets.push(dots(leftDotted, BLUE, 3));
datasets.push(dots(leftOuter, BLUE, 3.2));
datasets.push(dots(topChain, BLUE, 3));
datasets.push(dots(verticalDots, BLUE, 3));
datasets.push(dots(rightBoundary, BLUE, 3.4));

datasets.push(dots(redTop.concat(redUpperRight, redRight, redCentre, redShoulder, redBelt, redFlank, redInner, redLower), '#ff0000', 2.3));

function write(ctx, text, x, y, font) {
    ctx.font = font;
    ctx.fillText(text, x, y);
}
// e_1 + word + omega_1 with a lowered subscript, along the current baseline
function axisLabel(ctx, word, wordWidth) {
    const main = '68px "Liberation Serif"';
    const sub = '48px "Liberation Serif"';
    write(ctx, 'e', 0, 0, main);
    write(ctx, '1', 33, 19, sub);
    write(ctx, word, 73, 0, main);
    write(ctx, '\u03c9', 73 + wordWidth, 0, main);
    write(ctx, '1', 73 + wordWidth + 46, 19, sub);
}

// inward ticks go under the data, the frame over it
const framePlugin = {
    id: 'frame',
    beforeDatasetsDraw(chart) {
        const { ctx, chartArea: a, scales } = chart;
        ctx.save();
        ctx.strokeStyle = '#000';
        ctx.lineWidth = 6;
        ctx.beginPath();
        xTicks.forEach(v => {
            const px = scales.x.getPixelForValue(v);
            ctx.moveTo(px, a.top); ctx.lineTo(px, a.top + 36);
            ctx.moveTo(px, a.bottom); ctx.lineTo(px, a.bottom - 36);
        });
        yTicks.forEach(v => {
            const py = scales.y.getPixelForValue(v);
            ctx.moveTo(a.left, py); ctx.lineTo(a.left + 36, py);
            ctx.moveTo(a.right, py); ctx.lineTo(a.right - 36, py);
        });
        ctx.stroke();
        ctx.restore();
    },
    afterDatasetsDraw(chart) {
        const { ctx, chartArea: a } = chart;
        ctx.save();
        ctx.strokeStyle = '#000';
        ctx.lineWidth = 7;
        ctx.strokeRect(a.left, a.top, a.right - a.left, a.bottom - a.top);
        ctx.fillStyle = '#000';
        ctx.textBaseline = 'alphabetic';
        write(ctx, 'd)', 303, 172, 'bold 64px "Liberation Serif"');
        write(ctx, '\u0394', 1111, 164, '74px "Liberation Serif"');
        write(ctx, '\u03d6', 1157, 164, 'bold 74px "Liberation Serif"');
        write(ctx, '=', 1232, 164, 'bold 68px "Liberation Serif"');
        write(ctx, '\u03c0', 1298, 164, 'bold 74px "Liberation Serif"');
        ctx.save();
        ctx.translate(720, 1368);
        axisLabel(ctx, 'cos2', 124);
        ctx.restore();
        ctx.save();
        ctx.translate(71, 762);
        ctx.rotate(-Math.PI / 2);
        axisLabel(ctx, 'sin2', 113);
        ctx.restore();
        ctx.restore();
    }
};

new Chart(document.getElementById('chart'), {
    type: 'scatter',
    data: { datasets: datasets },
    plugins: [framePlugin],
    options: {
        responsive: false,
        animation: false,
        layout: { padding: { top: 52.5, right: 60.5, left: 0, bottom: 0 } },
        plugins: { legend: { display: false }, tooltip: { enabled: false } },
        scales: {
            x: {
                type: 'linear',
                min: -0.3198,
                max: 0.0196,
                grid: { display: false },
                border: { display: false },
                afterBuildTicks(scale) { scale.ticks = xTicks.map(v => ({ value: v })); },
                afterFit(scale) { scale.height = 170; scale.paddingLeft = 0; scale.paddingRight = 0; },
                ticks: {
                    padding: 27,
                    autoSkip: false,
                    maxRotation: 0,
                    color: '#000',
                    font: { family: '"Liberation Serif"', size: 64 },
                    callback: v => xTickLabels[xTicks.indexOf(v)]
                }
            },
            y: {
                type: 'linear',
                min: -0.17,
                max: 0.1696,
                grid: { display: false },
                border: { display: false },
                afterBuildTicks(scale) { scale.ticks = yTicks.map(v => ({ value: v })); },
                afterFit(scale) { scale.width = 226; scale.paddingTop = 0; scale.paddingBottom = 0; },
                ticks: {
                    padding: 36,
                    labelOffset: 6,
                    autoSkip: false,
                    color: '#000',
                    font: { family: '"Liberation Serif"', size: 64 },
                    callback: v => yTickLabels[yTicks.indexOf(v)]
                }
            }
        }
    }
});
</script>
</body>
</html>
